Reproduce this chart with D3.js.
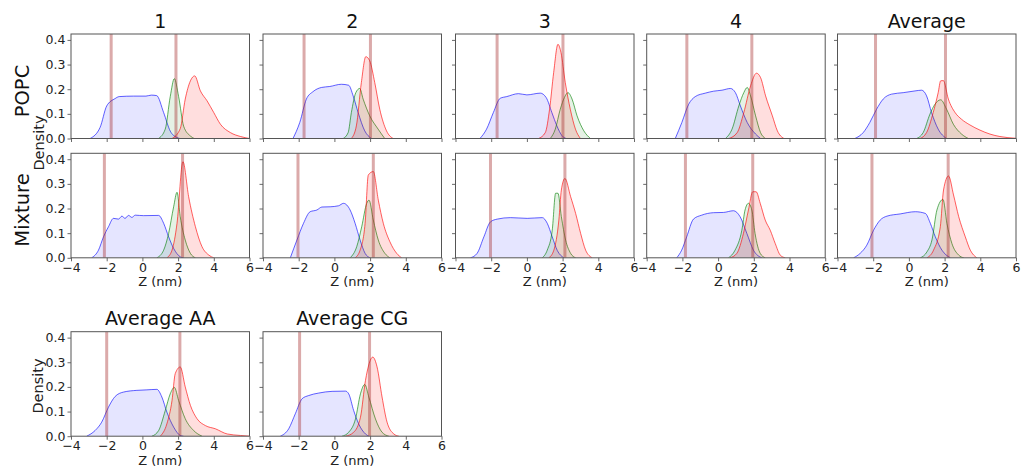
<!DOCTYPE html>
<html>
<head>
<meta charset="utf-8">
<script src="https://cdn.jsdelivr.net/npm/d3@7"></script>
<style>
  body { margin: 0; background: #fff; }
  svg { font-family: "DejaVu Sans", sans-serif; }
</style>
</head>
<body>
<div id="chart"></div>
<script>
// panel titles / labels
const topTitles = ["1", "2", "3", "4", "Average"];
const bottomTitles = ["Average AA", "Average CG"];
const rowLabels = ["POPC", "Mixture"];
const xTicks = [-4, -2, 0, 2, 4, 6];
const yTicks = [0, 0.1, 0.2, 0.3, 0.4];

// [z (nm), density]
const popc1Blue = [[-2.93,0],[-2.37,0.045],[-2.0,0.132],[-1.53,0.162],[-1.3,0.17],[-0.5,0.172],[0.2,0.172],[0.5,0.176],[0.8,0.174],[1.19,0.105],[1.56,0.03],[1.94,0.004],[2.1,0]];
const popc1Green = [[0.9,0],[1.28,0.038],[1.56,0.17],[1.79,0.243],[2.03,0.17],[2.31,0.05],[2.69,0.01],[2.9,0]];
const popc1Red = [[1.66,0],[2.12,0.04],[2.4,0.16],[2.69,0.234],[2.93,0.254],[3.25,0.193],[3.62,0.153],[4.0,0.105],[4.37,0.058],[4.93,0.024],[5.5,0.008],[6,0]];
const popc1Lines = [-1.75, 1.88];

const popc2Blue = [[-2.32,0],[-1.94,0.065],[-1.57,0.16],[-1.2,0.19],[-0.73,0.207],[-0.26,0.211],[0.39,0.22],[0.8,0.216],[1.05,0.173],[1.33,0.105],[1.7,0.031],[2.07,0]];
const popc2Green = [[0.49,0],[0.77,0.024],[0.95,0.105],[1.2,0.186],[1.42,0.203],[1.61,0.16],[1.98,0.092],[2.45,0.038],[2.82,0]];
const popc2Red = [[0.95,0],[1.23,0.051],[1.51,0.227],[1.76,0.332],[1.98,0.315],[2.26,0.227],[2.54,0.119],[2.92,0.031],[3.29,0]];
const popc2Lines = [-1.7, 2.02];

const popc3Blue = [[-2.63,0],[-2.26,0.038],[-1.88,0.105],[-1.5,0.163],[-1.13,0.17],[-0.47,0.182],[0,0.177],[0.75,0.184],[1.08,0.166],[1.4,0.105],[1.68,0.051],[1.97,0.011],[2.2,0]];
const popc3Green = [[1.31,0],[1.59,0.038],[1.87,0.119],[2.1,0.166],[2.3,0.186],[2.53,0.16],[2.81,0.092],[3.19,0.031],[3.56,0]];
const popc3Red = [[0.65,0],[1.03,0.024],[1.27,0.119],[1.5,0.268],[1.74,0.382],[1.91,0.349],[2.15,0.227],[2.43,0.119],[2.72,0.038],[3.0,0]];
const popc3Lines = [-1.67, 2.02];

const popc4Blue = [[-2.4,0],[-2.03,0.065],[-1.65,0.139],[-1.28,0.17],[-0.72,0.184],[-0.25,0.192],[0.22,0.196],[0.69,0.203],[0.97,0.186],[1.25,0.132],[1.63,0.065],[2.1,0.018],[2.38,0]];
const popc4Green = [[0.41,0],[0.78,0.038],[1.16,0.132],[1.44,0.186],[1.63,0.207],[1.82,0.173],[2.1,0.092],[2.38,0.024],[2.66,0]];
const popc4Red = [[0.6,0],[1.07,0.024],[1.44,0.105],[1.82,0.214],[2.15,0.265],[2.38,0.247],[2.66,0.173],[3.04,0.092],[3.32,0.031],[3.69,0]];
const popc4Lines = [-1.75, 1.89];

const popcAvgBlue = [[-3.03,0],[-2.56,0.024],[-2.19,0.065],[-1.81,0.119],[-1.44,0.16],[-0.97,0.18],[-0.32,0.186],[0.34,0.193],[0.71,0.196],[0.99,0.173],[1.27,0.105],[1.64,0.038],[2.11,0]];
const popcAvgGreen = [[0.43,0],[0.8,0.024],[1.18,0.099],[1.46,0.139],[1.78,0.157],[2.11,0.119],[2.49,0.058],[2.95,0.018],[3.33,0]];
const popcAvgRed = [[0.62,0],[0.99,0.024],[1.36,0.105],[1.64,0.186],[1.78,0.234],[1.93,0.235],[2.21,0.16],[2.59,0.105],[2.95,0.078],[3.42,0.055],[3.98,0.034],[4.54,0.018],[5.1,0.008],[6,0.001]];
const popcAvgLines = [-1.87, 2.05];

const mix1Blue = [[-2.84,0],[-2.46,0.031],[-2.18,0.085],[-1.9,0.126],[-1.62,0.16],[-1.34,0.157],[-1.15,0.169],[-0.97,0.16],[-0.78,0.172],[-0.59,0.164],[-0.4,0.173],[0.06,0.171],[0.91,0.172],[1.19,0.14],[1.47,0.085],[1.75,0.038],[2.12,0.004],[2.3,0]];
const mix1Green = [[0.81,0],[1.19,0.031],[1.47,0.099],[1.75,0.207],[1.94,0.266],[2.12,0.167],[2.4,0.072],[2.69,0.018],[2.97,0]];
const mix1Red = [[1.37,0],[1.66,0.031],[1.94,0.14],[2.27,0.39],[2.59,0.248],[2.97,0.126],[3.34,0.045],[3.72,0.011],[4.0,0]];
const mix1Lines = [-2.13, 2.25];

const mix2Blue = [[-2.47,0],[-2.1,0.072],[-1.73,0.14],[-1.36,0.187],[-0.98,0.194],[-0.7,0.206],[-0.24,0.207],[0.23,0.211],[0.51,0.221],[0.88,0.194],[1.16,0.14],[1.44,0.072],[1.72,0.018],[2.0,0]];
const mix2Green = [[0.88,0],[1.25,0.045],[1.53,0.126],[1.81,0.221],[1.94,0.234],[2.18,0.153],[2.46,0.072],[2.83,0.018],[3.11,0]];
const mix2Red = [[1.16,0],[1.44,0.031],[1.72,0.14],[1.9,0.336],[2.18,0.35],[2.46,0.234],[2.74,0.14],[3.11,0.065],[3.49,0.018],[3.77,0]];
const mix2Lines = [-2.04, 2.18];

const mix3Blue = [[-3.16,0],[-2.79,0.018],[-2.41,0.085],[-2.04,0.146],[-1.66,0.157],[-0.92,0.163],[0.02,0.16],[0.86,0.163],[1.14,0.14],[1.42,0.085],[1.7,0.03],[2.07,0]];
const mix3Green = [[0.86,0],[1.14,0.031],[1.42,0.112],[1.61,0.262],[1.74,0.262],[1.93,0.167],[2.17,0.072],[2.45,0.018],[2.73,0]];
const mix3Red = [[1.23,0],[1.51,0.031],[1.79,0.153],[1.93,0.275],[2.13,0.322],[2.45,0.248],[2.73,0.18],[3.01,0.099],[3.29,0.031],[3.66,0]];
const mix3Lines = [-2.04, 2.13];

const mix4Blue = [[-2.32,0],[-2.04,0.031],[-1.76,0.085],[-1.38,0.157],[-0.92,0.173],[-0.26,0.183],[0.3,0.184],[0.86,0.191],[1.23,0.167],[1.61,0.099],[1.98,0.031],[2.45,0]];
const mix4Green = [[0.58,0],[0.95,0.031],[1.33,0.112],[1.51,0.194],[1.7,0.221],[1.89,0.194],[2.07,0.099],[2.36,0.018],[2.64,0]];
const mix4Red = [[0.67,0],[1.05,0.018],[1.42,0.099],[1.7,0.194],[1.94,0.268],[2.13,0.268],[2.36,0.221],[2.64,0.153],[2.92,0.112],[3.2,0.058],[3.48,0.011],[3.76,0]];
const mix4Lines = [-1.83, 1.94];

const mixAvgBlue = [[-3.1,0],[-2.73,0.018],[-2.36,0.051],[-1.98,0.112],[-1.61,0.153],[-1.23,0.169],[-0.49,0.178],[0.36,0.187],[0.92,0.18],[1.2,0.14],[1.48,0.085],[1.85,0.031],[2.32,0]];
const mixAvgGreen = [[0.64,0],[1.01,0.024],[1.29,0.072],[1.57,0.194],[1.91,0.237],[2.13,0.14],[2.41,0.058],[2.79,0.011],[3.07,0]];
const mixAvgRed = [[1.01,0],[1.38,0.031],[1.76,0.126],[1.94,0.275],[2.22,0.332],[2.5,0.255],[2.79,0.167],[3.16,0.085],[3.44,0.031],[3.81,0]];
const mixAvgLines = [-2.07, 2.2];

const aaBlue = [[-3.12,0],[-2.65,0.023],[-2.28,0.057],[-1.9,0.118],[-1.53,0.161],[-1.06,0.179],[-0.31,0.186],[0.25,0.188],[0.81,0.19],[1.09,0.159],[1.37,0.098],[1.75,0.037],[2.12,0.003],[2.3,0]];
const aaGreen = [[0.53,0],[0.91,0.023],[1.28,0.104],[1.56,0.172],[1.79,0.198],[2.03,0.145],[2.4,0.071],[2.87,0.023],[3.34,0]];
const aaRed = [[1.0,0],[1.37,0.05],[1.66,0.145],[1.84,0.254],[2.12,0.281],[2.4,0.2],[2.69,0.125],[3.06,0.071],[3.53,0.043],[4.09,0.03],[4.75,0.009],[5.49,0.003],[6,0]];
const aaLines = [-2.0, 2.1];

const cgBlue = [[-3.03,0],[-2.56,0.03],[-2.19,0.091],[-1.81,0.152],[-1.44,0.165],[-0.88,0.175],[-0.13,0.182],[0.62,0.183],[0.8,0.172],[1.08,0.104],[1.36,0.05],[1.74,0.009],[1.93,0]];
const cgGreen = [[0.43,0],[0.8,0.016],[1.18,0.07],[1.46,0.172],[1.7,0.21],[1.93,0.159],[2.3,0.07],[2.67,0.016],[3.05,0]];
const cgRed = [[0.62,0],[1.08,0.016],[1.46,0.077],[1.74,0.226],[2.15,0.321],[2.39,0.281],[2.67,0.159],[2.95,0.057],[3.33,0.009],[3.61,0]];
const cgLines = [-1.95, 1.97];

// layout
const width = 1021, height = 468;
const colX = [71, 263, 455.5, 646.7, 837.5];
const rowY = [34, 153.3, 331.7];
const pw = 178.5, ph = 104.5;

const panels = [
  {row: 0, col: 0, title: topTitles[0], blue: popc1Blue, green: popc1Green, red: popc1Red, lines: popc1Lines},
  {row: 0, col: 1, title: topTitles[1], blue: popc2Blue, green: popc2Green, red: popc2Red, lines: popc2Lines},
  {row: 0, col: 2, title: topTitles[2], blue: popc3Blue, green: popc3Green, red: popc3Red, lines: popc3Lines},
  {row: 0, col: 3, title: topTitles[3], blue: popc4Blue, green: popc4Green, red: popc4Red, lines: popc4Lines},
  {row: 0, col: 4, title: topTitles[4], blue: popcAvgBlue, green: popcAvgGreen, red: popcAvgRed, lines: popcAvgLines},
  {row: 1, col: 0, blue: mix1Blue, green: mix1Green, red: mix1Red, lines: mix1Lines},
  {row: 1, col: 1, blue: mix2Blue, green: mix2Green, red: mix2Red, lines: mix2Lines},
  {row: 1, col: 2, blue: mix3Blue, green: mix3Green, red: mix3Red, lines: mix3Lines},
  {row: 1, col: 3, blue: mix4Blue, green: mix4Green, red: mix4Red, lines: mix4Lines},
  {row: 1, col: 4, blue: mixAvgBlue, green: mixAvgGreen, red: mixAvgRed, lines: mixAvgLines},
  {row: 2, col: 0, title: bottomTitles[0], blue: aaBlue, green: aaGreen, red: aaRed, lines: aaLines},
  {row: 2, col: 1, title: bottomTitles[1], blue: cgBlue, green: cgGreen, red: cgRed, lines: cgLines}
];

const series = [
  {key: "blue", fill: "rgba(0,0,255,0.1)", stroke: "rgba(0,0,255,0.62)"},
  {key: "green", fill: "rgba(0,128,0,0.1)", stroke: "rgba(0,128,0,0.62)"},
  {key: "red", fill: "rgba(255,0,0,0.13)", stroke: "rgba(255,0,0,0.62)"}
];

const svg = d3.select("#chart").append("svg")
    .attr("width", width)
    .attr("height", height);

const x = d3.scaleLinear().domain([-4, 6]).range([0, pw]);
const y = d3.scaleLinear().domain([0, 0.424]).range([ph, 0]);

const area = d3.area()
    .x(d => x(d[0]))
    .y0(y(0))
    .y1(d => y(d[1]))
    .curve(d3.curveMonotoneX);
const line = d3.line()
    .x(d => x(d[0]))
    .y(d => y(d[1]))
    .curve(d3.curveMonotoneX);

panels.forEach(p => {
  const g = svg.append("g")
      .attr("transform", `translate(${colX[p.col]},${rowY[p.row]})`);

  const clipId = `clip-${p.row}-${p.col}`;
  g.append("clipPath").attr("id", clipId)
    .append("rect").attr("width", pw).attr("height", ph);

  const plot = g.append("g").attr("clip-path", `url(#${clipId})`);

  series.forEach(s => {
    plot.append("path")
        .attr("d", area(p[s.key]))
        .attr("fill", s.fill);
    plot.append("path")
        .attr("d", line(p[s.key]))
        .attr("fill", "none")
        .attr("stroke", s.stroke)
        .attr("stroke-width", 1);
  });

  plot.selectAll("line.vl")
    .data(p.lines)
    .enter().append("line")
      .attr("class", "vl")
      .attr("x1", d => x(d)).attr("x2", d => x(d))
      .attr("y1", 0).attr("y2", ph)
      .attr("stroke", "rgba(165,42,42,0.4)")
      .attr("stroke-width", 3);

  // axes
  const showX = p.row > 0;
  const showY = p.col === 0;

  const xa = g.append("g")
      .attr("transform", `translate(0,${ph})`)
      .call(d3.axisBottom(x).tickValues(xTicks).tickSize(3.5).tickPadding(1.5)
        .tickFormat(showX ? d3.format("d") : ""));
  const ya = g.append("g")
      .call(d3.axisLeft(y).tickValues(yTicks).tickSize(3.5).tickPadding(2)
        .tickFormat(showY ? d3.format(".1f") : ""));

  [xa, ya].forEach(a => {
    a.select(".domain").remove();
    a.selectAll(".tick line").attr("stroke", "#444").attr("stroke-width", 0.8);
    a.selectAll(".tick text")
        .attr("fill", "#222")
        .style("font-size", "12.5px")
        .style("font-family", "DejaVu Sans");
  });

  g.append("rect")
      .attr("width", pw).attr("height", ph)
      .attr("fill", "none")
      .attr("stroke", "#555")
      .attr("stroke-width", 1);

  if (p.title) {
    g.append("text")
        .attr("x", pw / 2).attr("y", -6.5)
        .attr("text-anchor", "middle")
        .style("font-size", "19px")
        .attr("fill", "#111")
        .text(p.title);
  }

  if (showX) {
    g.append("text")
        .attr("x", pw / 2).attr("y", ph + 28.5)
        .attr("text-anchor", "middle")
        .style("font-size", "13px")
        .attr("fill", "#222")
        .text("Z (nm)");
  }
});

// row labels
[[rowLabels[0], 28.5, 91], [rowLabels[1], 28.5, 210]].forEach(r => {
  svg.append("text")
      .attr("transform", `translate(${r[1]},${r[2]}) rotate(-90)`)
      .attr("text-anchor", "middle")
      .style("font-size", "19.5px")
      .attr("fill", "#111")
      .text(r[0]);
});

// density labels
[[43.5, 143], [43, 386]].forEach(d => {
  svg.append("text")
      .attr("transform", `translate(${d[0]},${d[1]}) rotate(-90)`)
      .attr("text-anchor", "middle")
      .style("font-size", "14.5px")
      .attr("fill", "#222")
      .text("Density");
});
</script>
</body>
</html>
